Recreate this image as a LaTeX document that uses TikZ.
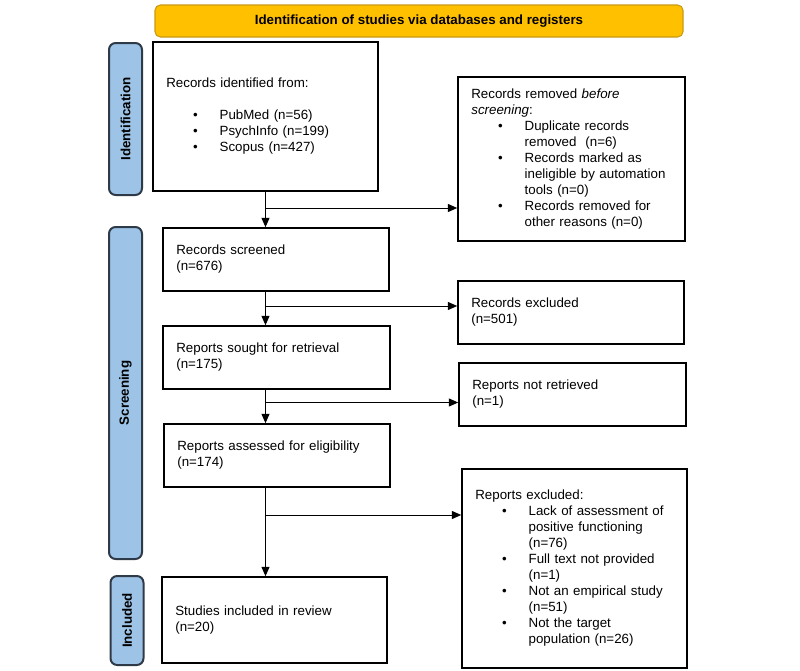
\documentclass[tikz,border=0pt]{standalone}
\usepackage{fontspec}
\setmainfont{Liberation Sans}
\usetikzlibrary{arrows.meta}
\definecolor{bannerfill}{HTML}{FFC000}
\definecolor{bannerdraw}{HTML}{C99A12}
\definecolor{sidefill}{HTML}{9DC3E6}
\definecolor{sidedraw}{HTML}{2F3A48}
\newcommand\itm[1]{\hspace*{20pt}\makebox[20pt][l]{\textbullet}#1}
\newcommand\cnt[1]{\hspace*{40pt}#1}
\begin{document}
\begin{tikzpicture}[x=0.75pt,y=-0.75pt,
  box/.style={draw=black, line width=1.2pt, fill=white, inner xsep=10pt, inner ysep=0pt,
    align=left, font=\fontsize{10}{12}\selectfont, minimum height=47.25pt},
  side/.style={draw=sidedraw, line width=1.5pt, fill=sidefill, rounded corners=5pt,
    rotate=90, font=\bfseries\fontsize{10}{12}\selectfont, inner sep=0pt, minimum height=24.75pt},
  arr/.style={line width=0.7pt, -{Triangle[length=7pt,width=6pt]}},
  ln/.style={line width=0.7pt}]
\useasboundingbox (0,0) rectangle (800,671);

\node[draw=bannerdraw, line width=0.8pt, fill=bannerfill, rounded corners=4pt,
  minimum width=396pt, minimum height=24pt, font=\bfseries\fontsize{10}{12}\selectfont]
  (banner) at (419,21) {Identification of studies via databases and registers};

\node[side, minimum width=114pt] (sid) at (125.5,119) {Identification};
\node[side, minimum width=249pt] (sscr) at (125.5,393) {Screening};
\node[side, minimum width=66.75pt] (sinc) at (127,620.5) {Included};

\node[box, minimum width=168.75pt, minimum height=111.75pt, text width=148.75pt] (b1) at (265.5,116.5)
 {Records identified from:\\[12pt]
  \itm{PubMed (n=56)}\\
  \itm{PsychInfo (n=199)}\\
  \itm{Scopus (n=427)}};

\node[box, minimum width=169.5pt, text width=149.5pt] (b2) at (276,259.5)
 {Records screened\\(n=676)};
\node[box, minimum width=170.25pt, text width=150.25pt] (b3) at (276.5,357.5)
 {Reports sought for retrieval\\(n=175)};
\node[box, minimum width=169.5pt, text width=149.5pt] (b4) at (277,455.5)
 {Reports assessed for eligibility\\(n=174)};
\node[box, minimum width=168.75pt, minimum height=64.5pt, text width=148.75pt] (b5) at (274.5,620)
 {Studies included in review\\(n=20)\\[9pt]};

\node[box, minimum width=170.25pt, minimum height=123pt, text width=150.25pt] (rem) at (571.5,159)
 {Records removed \textit{before}\\
  \textit{screening}:\\
  \itm{Duplicate records}\\
  \cnt{removed\ \ (n=6)}\\
  \itm{Records marked as}\\
  \cnt{ineligible by automation}\\
  \cnt{tools (n=0)}\\
  \itm{Records removed for}\\
  \cnt{other reasons (n=0)}};

\node[box, minimum width=169.5pt, text width=149.5pt] (exc) at (571,312.5)
 {Records excluded\\(n=501)};
\node[box, minimum width=170.25pt, text width=150.25pt] (nr) at (572.5,394.5)
 {Reports not retrieved\\(n=1)};
\node[box, minimum width=168.75pt, minimum height=149.25pt, text width=148.75pt] (rex) at (574.5,568.5)
 {Reports excluded:\\
  \itm{Lack of assessment of}\\
  \cnt{positive functioning}\\
  \cnt{(n=76)}\\
  \itm{Full text not provided}\\
  \cnt{(n=1)}\\
  \itm{Not an empirical study}\\
  \cnt{(n=51)}\\
  \itm{Not the target}\\
  \cnt{population (n=26)}};

\coordinate (y1) at (0,208);
\coordinate (y2) at (0,306);
\coordinate (y3) at (0,402.5);
\coordinate (y4) at (0,515);
\coordinate (j1) at (b1.south |- y1);
\coordinate (j2) at (b1.south |- y2);
\coordinate (j3) at (b1.south |- y3);
\coordinate (j4) at (b1.south |- y4);

\draw[arr] (b1.south) -- (b1.south |- b2.north);
\draw[arr] (b1.south |- b2.south) -- (b1.south |- b3.north);
\draw[arr] (b1.south |- b3.south) -- (b1.south |- b4.north);
\draw[arr] (b1.south |- b4.south) -- (b1.south |- b5.north);

\draw[arr] (j1) -- (j1 -| rem.west);
\draw[arr] (j2) -- (j2 -| exc.west);
\draw[arr] (j3) -- (j3 -| nr.west);
\draw[arr] (j4) -- (j4 -| rex.west);
\end{tikzpicture}
\end{document}
